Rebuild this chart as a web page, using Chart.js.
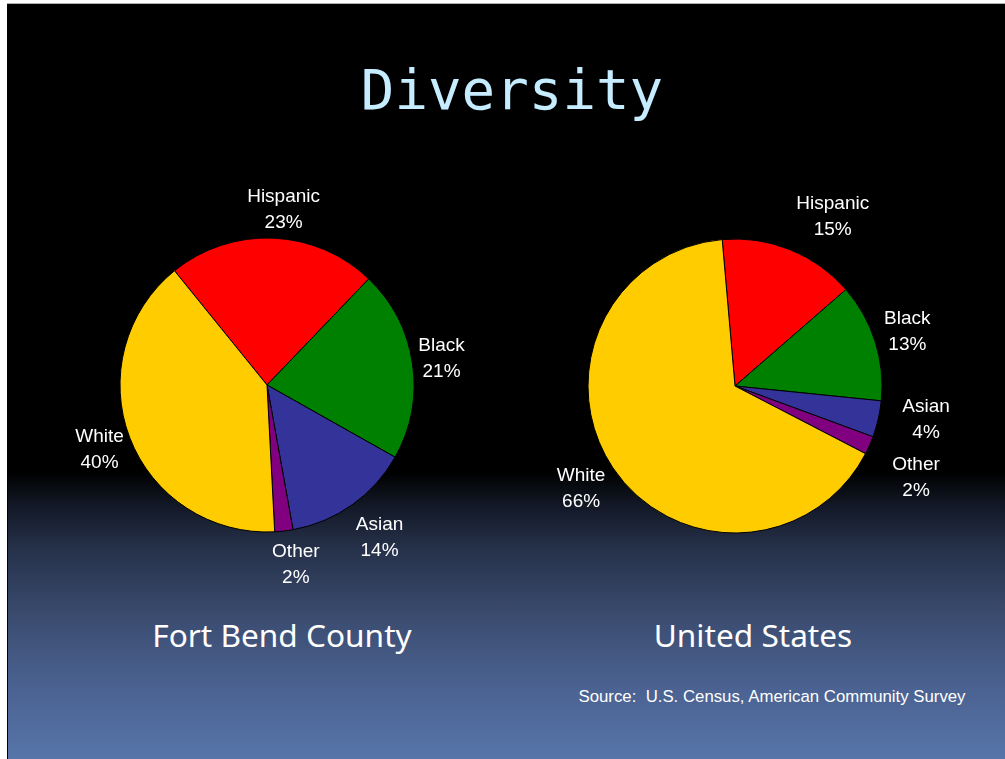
<!DOCTYPE html>
<html>
<head>
<meta charset="utf-8">
<script src="https://cdn.jsdelivr.net/npm/chart.js@4.4.1/dist/chart.umd.min.js"></script>
<style>
  html, body { margin: 0; padding: 0; background: #fff; width: 1005px; height: 759px; overflow: hidden; }
  #slide {
    position: absolute; left: 7px; top: 4px; width: 998px; height: 755px;
    background: linear-gradient(to bottom, #000 0px, #000 468px, #111724 500px, #26314a 545px, #3a4b6e 610px, #4a6190 680px, #5775a9 755px);
    border-left: 1px solid #000; box-sizing: border-box;
  }
  .topline { position: absolute; left: 7px; top: 3px; width: 998px; height: 1px; background: #b0b0b0; }
  #title { position: absolute; left: 212px; width: 600px; top: 52px; text-align: center;
    font-family: "DejaVu Sans Mono", monospace; font-size: 55.8px; color: #c6ecff; line-height: 76px; }
  .sub { position: absolute; top: 613px; width: 400px; text-align: center; color: #fff;
    font-family: "Noto Sans", "Open Sans", sans-serif; font-size: 31.6px; line-height: 44px; }
  #source { position: absolute; left: 522px; width: 500px; top: 686px; text-align: center; color: #fff;
    font-family: "Liberation Sans", Arial, sans-serif; font-size: 16.8px; line-height: 22px; }
  canvas { position: absolute; }
</style>
</head>
<body>
<div class="topline"></div>
<div id="slide"></div>
<div id="title">Diversity</div>
<div class="sub" style="left:82px">Fort Bend County</div>
<div class="sub" style="left:553px">United States</div>
<div id="source">Source:&nbsp; U.S. Census, American Community Survey</div>
<div style="position:absolute;left:37px;top:155px;width:460px;height:460px"><canvas id="c1"></canvas></div>
<div style="position:absolute;left:505px;top:156px;width:460px;height:460px"><canvas id="c2"></canvas></div>
<script>
const categories = ["Hispanic", "Black", "Asian", "Other", "White"];
const fortBendValues = [23, 21, 14, 2, 40];
const usValues = [15, 13, 4, 2, 66];
const sliceColors = ["#ff0000", "#008000", "#333399", "#800080", "#ffcc00"];

const outsideLabels = {
  id: "outsideLabels",
  afterDatasetsDraw(chart, args, opts) {
    const ctx = chart.ctx;
    const meta = chart.getDatasetMeta(0);
    const data = chart.data.datasets[0].data;
    ctx.save();
    ctx.fillStyle = "#fff";
    ctx.font = "19px 'Liberation Sans', Arial, sans-serif";
    ctx.textAlign = "center";
    ctx.textBaseline = "middle";
    meta.data.forEach((arc, i) => {
      const p = arc.getProps(["x", "y", "startAngle", "endAngle", "outerRadius"], true);
      const mid = (p.startAngle + p.endAngle) / 2 + (opts.angleShift ? opts.angleShift[i] : 0) * Math.PI / 180;
      const r = p.outerRadius * (opts.factors ? opts.factors[i] : 1.24);
      const cx = p.x + Math.cos(mid) * r;
      const cy = p.y + Math.sin(mid) * r;
      ctx.fillText(chart.data.labels[i], cx, cy - 13);
      ctx.fillText(data[i] + "%", cx, cy + 13);
    });
    ctx.restore();
  }
};

function makePie(id, values, rotation, factors, angleShift) {
  new Chart(document.getElementById(id), {
    type: "pie",
    data: {
      labels: categories,
      datasets: [{ data: values, backgroundColor: sliceColors, borderColor: "#000", borderWidth: 1 }]
    },
    options: {
      responsive: true, maintainAspectRatio: false, animation: false,
      rotation: rotation, radius: 147,
      layout: { padding: 0 },
      plugins: { legend: { display: false }, tooltip: { enabled: false },
        outsideLabels: { factors: factors, angleShift: angleShift } }
    },
    plugins: [outsideLabels]
  });
}
makePie("c1", fortBendValues, -39, [1.2, 1.2, 1.29, 1.24, 1.22], [3, 0, -1, -2.5, 0]);
makePie("c2", usValues, -5, [1.33, 1.23, 1.32, 1.38, 1.26], [8, 0, -3, 3, 0]);
</script>
</body>
</html>
